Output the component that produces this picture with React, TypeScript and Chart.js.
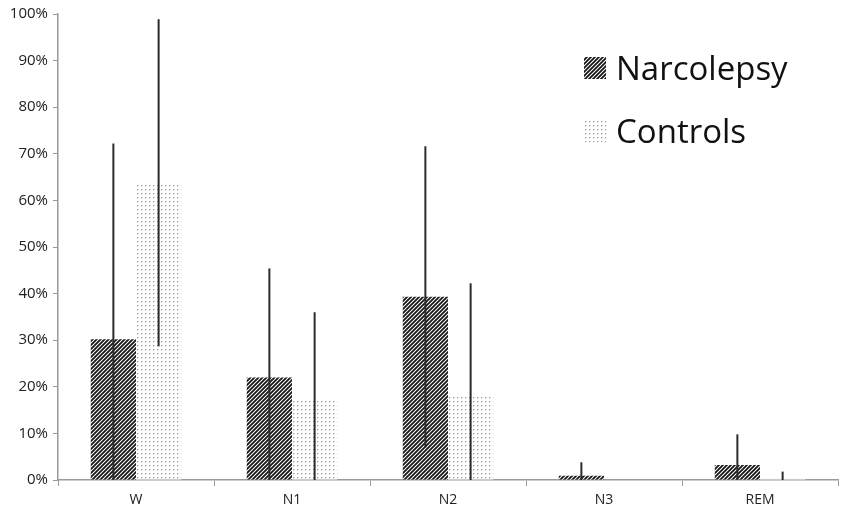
import { useEffect, useRef } from 'react';
import { Chart, registerables, ChartConfiguration, Plugin } from 'chart.js';

Chart.register(...registerables);

const stages = ['W', 'N1', 'N2', 'N3', 'REM'];
const narcolepsyMean = [30.2, 22.0, 39.3, 0.9, 3.2];
const narcolepsySd = [42.0, 23.4, 32.3, 2.9, 6.6];
const controlsMean = [63.8, 17.3, 17.8, 0, 0.3];
const controlsSd = [35.1, 18.7, 24.4, 0, 1.5];
const seriesNames = ['Narcolepsy', 'Controls'];

const FONT = "'Open Sans', 'DejaVu Sans', sans-serif";

function hatchPattern(ctx: CanvasRenderingContext2D) {
  const c = document.createElement('canvas');
  c.width = 4;
  c.height = 4;
  const p = c.getContext('2d')!;
  p.fillStyle = '#ffffff';
  p.fillRect(0, 0, 4, 4);
  p.strokeStyle = '#161616';
  p.lineWidth = 1.8;
  p.beginPath();
  p.moveTo(-1, 5);
  p.lineTo(5, -1);
  p.moveTo(-1, 1);
  p.lineTo(1, -1);
  p.moveTo(3, 5);
  p.lineTo(5, 3);
  p.stroke();
  return ctx.createPattern(c, 'repeat')!;
}

function dotPattern(ctx: CanvasRenderingContext2D) {
  const c = document.createElement('canvas');
  c.width = 4;
  c.height = 4;
  const p = c.getContext('2d')!;
  p.fillStyle = '#ffffff';
  p.fillRect(0, 0, 4, 4);
  p.fillStyle = '#9a9a9a';
  p.fillRect(1, 1, 1.3, 1.3);
  return ctx.createPattern(c, 'repeat')!;
}

const errorBars: Plugin<'bar'> = {
  id: 'errorBars',
  afterDatasetsDraw(chart) {
    const { ctx, scales } = chart;
    const y = scales.y;
    const sds = [narcolepsySd, controlsSd];
    const means = [narcolepsyMean, controlsMean];
    ctx.save();
    ctx.strokeStyle = '#2b2b2b';
    ctx.lineWidth = 2;
    sds.forEach((sd, i) => {
      const meta = chart.getDatasetMeta(i);
      meta.data.forEach((bar, j) => {
        if (!sd[j]) return;
        const top = y.getPixelForValue(means[i][j] + sd[j]);
        const bottom = y.getPixelForValue(Math.max(0, means[i][j] - sd[j]));
        ctx.beginPath();
        ctx.moveTo(bar.x, top);
        ctx.lineTo(bar.x, bottom);
        ctx.stroke();
      });
    });
    ctx.restore();
  },
};

const legendBox: Plugin<'bar'> = {
  id: 'legendBox',
  afterDraw(chart) {
    const { ctx, chartArea } = chart;
    const x = chartArea.right - 254;
    const rows = [57, 120];
    const fills = [hatchPattern(ctx), dotPattern(ctx)];
    ctx.save();
    rows.forEach((ry, i) => {
      ctx.fillStyle = fills[i];
      ctx.fillRect(x, ry, 22, 22);
      ctx.fillStyle = '#111111';
      ctx.font = `33px ${FONT}`;
      ctx.textBaseline = 'middle';
      ctx.textAlign = 'left';
      ctx.fillText(seriesNames[i], x + 32, ry + 14);
    });
    ctx.restore();
  },
};

export default function App() {
  const canvasRef = useRef<HTMLCanvasElement>(null);
  const chartRef = useRef<Chart | null>(null);

  useEffect(() => {
    document.body.style.margin = '0';
    if (!canvasRef.current) return;
    const ctx = canvasRef.current.getContext('2d');
    if (!ctx) return;

    const config: ChartConfiguration<'bar'> = {
      type: 'bar',
      data: {
        labels: stages,
        datasets: [
          {
            label: seriesNames[0],
            data: narcolepsyMean,
            backgroundColor: hatchPattern(ctx),
            borderWidth: 0,
            barPercentage: 1,
            categoryPercentage: 0.58,
          },
          {
            label: seriesNames[1],
            data: controlsMean,
            backgroundColor: dotPattern(ctx),
            borderWidth: 0,
            barPercentage: 1,
            categoryPercentage: 0.58,
          },
        ],
      },
      options: {
        responsive: false,
        animation: false,
        layout: { padding: { top: 4, right: 12, left: 0, bottom: 0 } },
        plugins: {
          legend: { display: false },
          tooltip: { enabled: false },
        },
        scales: {
          x: {
            grid: {
              drawOnChartArea: false,
              drawTicks: true,
              tickLength: 6,
              offset: true,
              color: '#9a9a9a',
            },
            border: { color: '#9a9a9a', width: 1.5 },
            ticks: {
              color: '#222222',
              font: { family: FONT, size: 14, weight: 500 },
              padding: 6,
            },
            afterFit(scale) {
              scale.height = 37;
            },
          },
          y: {
            min: 0,
            max: 100,
            grid: {
              drawOnChartArea: false,
              drawTicks: true,
              tickLength: 5,
              color: '#9a9a9a',
            },
            border: { color: '#9a9a9a', width: 1.5 },
            ticks: {
              stepSize: 10,
              color: '#222222',
              font: { family: FONT, size: 15, weight: 500 },
              padding: 5,
              callback: (v) => v + '%',
            },
            afterFit(scale) {
              scale.width = 58;
            },
          },
        },
      },
      plugins: [errorBars, legendBox],
    };

    if (chartRef.current) chartRef.current.destroy();
    chartRef.current = new Chart(ctx, config);

    return () => {
      if (chartRef.current) {
        chartRef.current.destroy();
        chartRef.current = null;
      }
    };
  }, []);

  return (
    <div style={{ width: 850, height: 517, background: '#ffffff' }}>
      <canvas ref={canvasRef} width={850} height={517} />
    </div>
  );
}
